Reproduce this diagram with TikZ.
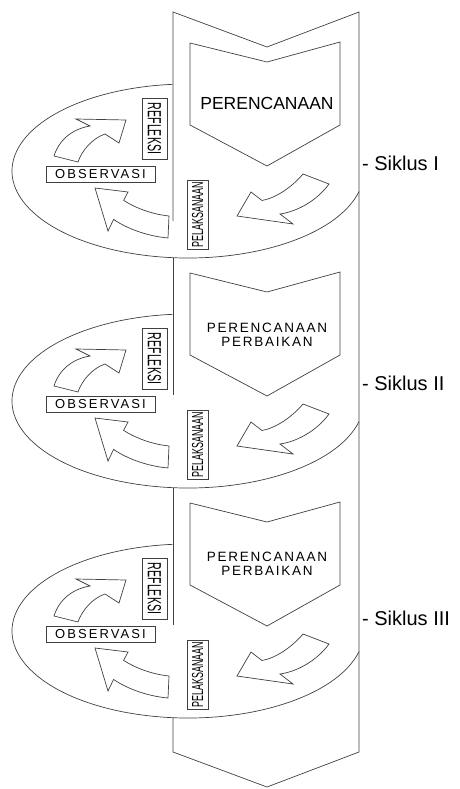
\documentclass[tikz,border=0pt]{standalone}
\usepackage{fontspec}
\setmainfont{Liberation Sans}
\usepackage{graphicx}
\newcommand{\narrowtext}[1]{\scalebox{0.56}[1]{#1}}

\begin{document}
\begin{tikzpicture}[
        x=1pt, y=-1pt,
        % Outline styles
        outline/.style={draw=black!75, line width=0.7pt, line join=miter},
        solidShape/.style={outline, fill=white},
        % Label boxes
        tagBox/.style={rectangle, outline, fill=white, inner sep=0pt},
        reflBox/.style={tagBox, rotate=-90, minimum width=61pt, minimum height=25pt, font=\fontsize{19}{19}\selectfont},
        pelBox/.style={tagBox, rotate=90, minimum width=69pt, minimum height=21pt, font=\fontsize{16}{16}\selectfont},
        obsBox/.style={tagBox, minimum width=109pt, minimum height=16pt, font=\fontsize{13}{13}\selectfont\addfontfeature{LetterSpace=16}},
        % Titles and cycle labels
        planBig/.style={inner sep=0pt, font=\fontsize{17.5}{17.5}\selectfont},
        planSmall/.style={inner sep=0pt, align=center, font=\fontsize{13.5}{14.5}\selectfont\addfontfeature{LetterSpace=13}},
        cycleLabel/.style={anchor=west, inner sep=0pt, font=\fontsize{20}{20}\selectfont}
    ]
    \useasboundingbox (0,0) rectangle (460,789);

    % --- COLUMN ---
    \draw[outline] (173,221) -- (173,12) -- (267,47) -- (359,12) -- (359,752) -- (267,787) -- (173,752) -- (173,717.7);
    \draw[outline] (173,257.7) -- (173,395);
    \draw[outline] (173,487.7) -- (173,625);

    % --- CYCLES ---
    \foreach \c/\dy in {1/0, 2/230, 3/460} {
        \begin{scope}[shift={(0,\dy)}]
            % front part of the ring
            \draw[outline] (188,171) ++(13.68:176 and 87) arc[start angle=13.68, end angle=265, x radius=176, y radius=87];
            % planning chevron
            \draw[solidShape] (190,43) -- (267,62) -- (340,42) -- (340,125) -- (267,166) -- (190,125) -- cycle;
            % block arrows
            \draw[solidShape] (54,156) .. controls (59,140) and (72,129) .. (90,126) -- (76,119) -- (126,120) -- (119,143) -- (105,134) .. controls (93,138) and (82,150) .. (78,162) -- cycle;
            \draw[solidShape] (169,216) .. controls (150,214) and (134,207) .. (123.6,200.4) -- (128,192) -- (95,188) -- (108,231) -- (113.6,219.4) .. controls (126,228) and (146,236) .. (168,238) -- cycle;
            \draw[solidShape] (303,174) .. controls (292,187) and (276,198) .. (262,200.5) -- (251,192) -- (237,216) -- (293,224) -- (280,214) .. controls (295,212) and (316,202) .. (329,184) -- cycle;
            % step boxes
            \node[reflBox] (refl\c) at (154.5,128.5) {\narrowtext{REFLEKSI}};
            \node[obsBox]  (obs\c)  at (100.5,174)   {OBSERVASI};
            \node[pelBox]  (pel\c)  at (197.5,214.5) {\narrowtext{PELAKSANAAN}};
        \end{scope}
    }

    % --- PLANNING TITLES ---
    \node[planBig]   (plan1) at (267,103) {PERENCANAAN};
    \node[planSmall] (plan2) at (267,335) {PERENCANAAN\\PERBAIKAN};
    \node[planSmall] (plan3) at (267,564) {PERENCANAAN\\PERBAIKAN};

    % --- CYCLE LABELS ---
    \node[cycleLabel] (siklus1) at (362,163) {- Siklus I};
    \node[cycleLabel] (siklus2) at (362,383) {- Siklus II};
    \node[cycleLabel] (siklus3) at (362,618) {- Siklus III};

\end{tikzpicture}
\end{document}
